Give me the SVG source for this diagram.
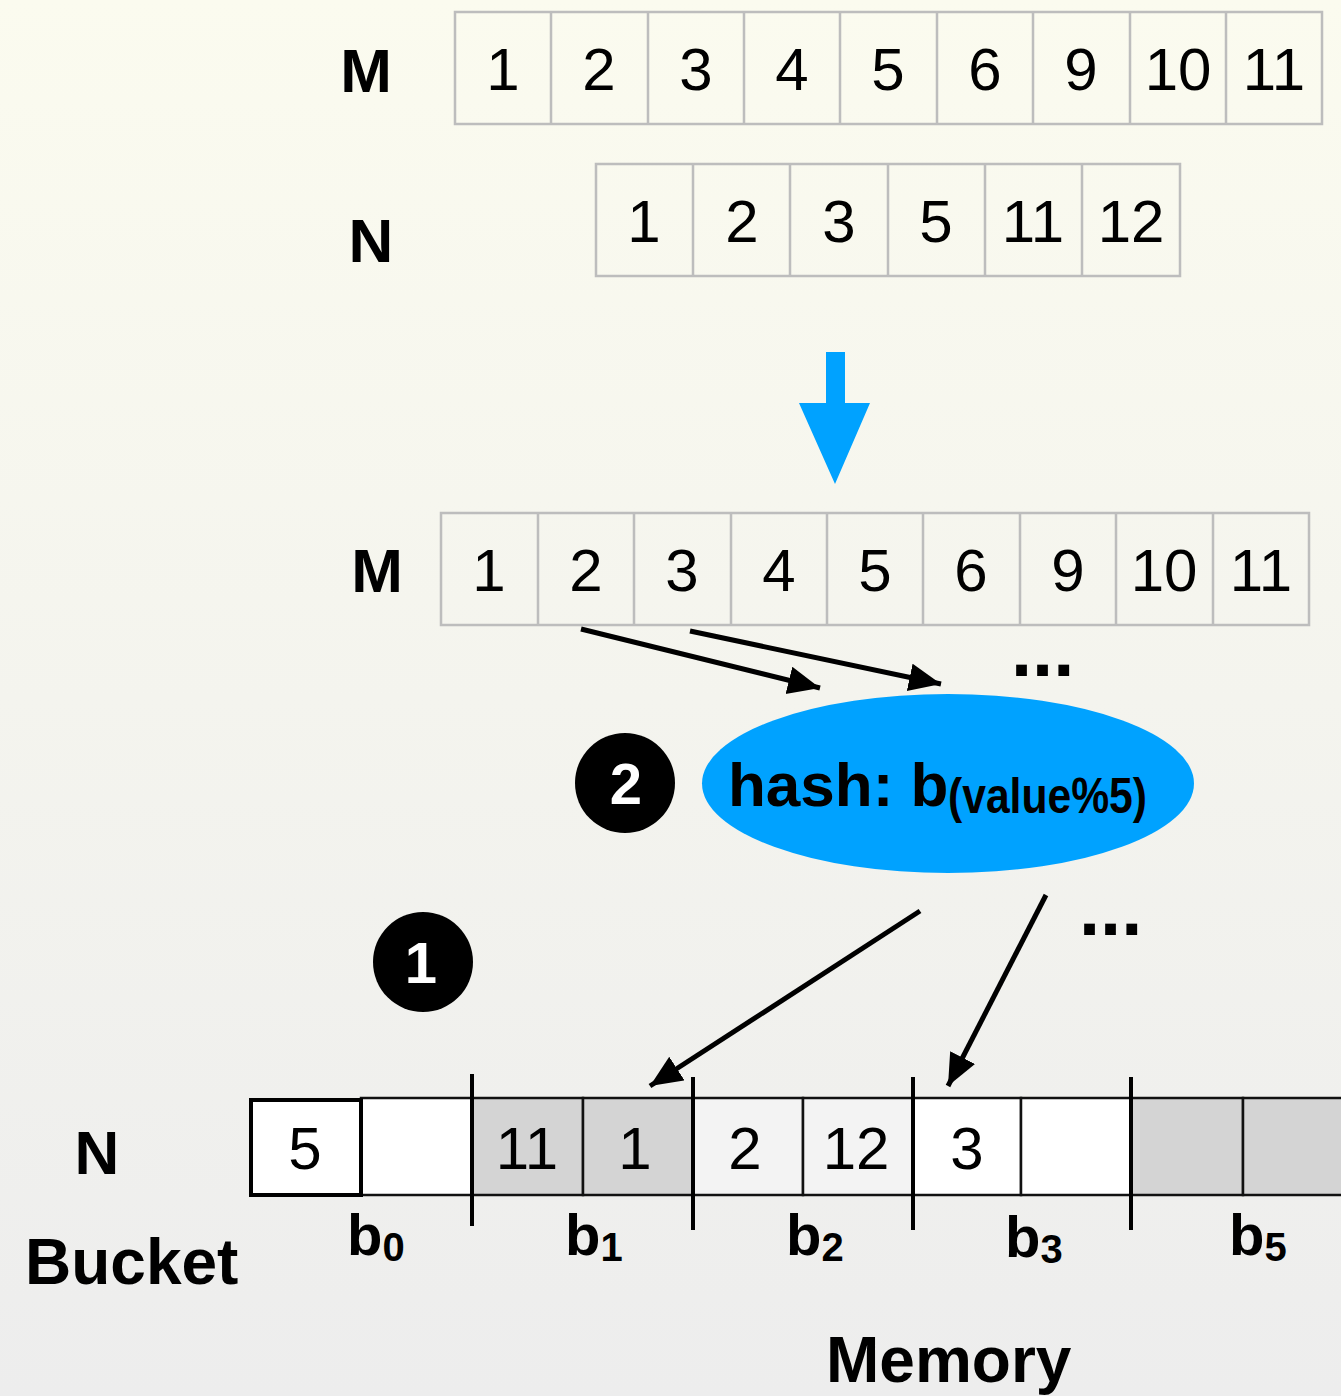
<svg xmlns="http://www.w3.org/2000/svg" width="1341" height="1396" viewBox="0 0 1341 1396">
<defs>
<linearGradient id="bg" x1="0" y1="0" x2="0" y2="1">
<stop offset="0" stop-color="#fbfbef"/>
<stop offset="1" stop-color="#ededed"/>
</linearGradient>
<marker id="ah" markerUnits="userSpaceOnUse" markerWidth="34" markerHeight="30" refX="32" refY="14" orient="auto" viewBox="0 0 34 30">
<path d="M0,0 L32,14 L0,28 z" fill="#000"/>
</marker>
</defs>
<style>
.cell{fill:none;stroke:#bdbdbd;stroke-width:2.5}
.num{font-family:"Liberation Sans",Arial,sans-serif;font-size:60px;fill:#000;text-anchor:middle}
.lbl{font-family:"Liberation Sans",Arial,sans-serif;font-weight:bold;font-size:62px;fill:#000;text-anchor:middle}
.bk{stroke:#111;stroke-width:2.5}
.sep{stroke:#000;stroke-width:4}
.conn{stroke:#000;stroke-width:5;fill:none;marker-end:url(#ah)}
.bl{font-family:"Liberation Sans",Arial,sans-serif;font-weight:bold;fill:#000}
.dots{font-family:"Liberation Sans",Arial,sans-serif;font-weight:bold;font-size:76px;fill:#000}
.white{font-family:"Liberation Sans",Arial,sans-serif;font-weight:bold;font-size:58px;fill:#fff;text-anchor:middle}
</style>
<rect x="0" y="0" width="1341" height="1396" fill="url(#bg)"/>

<g id="array-M-top">
<text class="lbl" x="366" y="92">M</text>
<rect class="cell" x="455" y="12" width="867" height="112"/>
<path class="cell" d="M551,12V124M648,12V124M744,12V124M840,12V124M937,12V124M1033,12V124M1130,12V124M1226,12V124"/>
<text class="num" x="503" y="90">1</text>
<text class="num" x="599" y="90">2</text>
<text class="num" x="696" y="90">3</text>
<text class="num" x="792" y="90">4</text>
<text class="num" x="888" y="90">5</text>
<text class="num" x="985" y="90">6</text>
<text class="num" x="1081" y="90">9</text>
<text class="num" x="1178" y="90">10</text>
<text class="num" x="1274" y="90">11</text>
</g>

<g id="array-N-top">
<text class="lbl" x="371" y="262">N</text>
<rect class="cell" x="596" y="164" width="584" height="112"/>
<path class="cell" d="M693,164V276M790,164V276M888,164V276M985,164V276M1082,164V276"/>
<text class="num" x="644" y="242">1</text>
<text class="num" x="742" y="242">2</text>
<text class="num" x="839" y="242">3</text>
<text class="num" x="936" y="242">5</text>
<text class="num" x="1033" y="242">11</text>
<text class="num" x="1131" y="242">12</text>
</g>

<g id="blue-arrow">
<path d="M826,352H845V403H870L835,484L799,403H826Z" fill="#00a2ff"/>
</g>

<g id="array-M-mid">
<text class="lbl" x="377" y="592">M</text>
<rect class="cell" x="441" y="513" width="868" height="112"/>
<path class="cell" d="M538,513V625M634,513V625M731,513V625M827,513V625M923,513V625M1020,513V625M1116,513V625M1213,513V625"/>
<text class="num" x="489" y="591">1</text>
<text class="num" x="586" y="591">2</text>
<text class="num" x="682" y="591">3</text>
<text class="num" x="779" y="591">4</text>
<text class="num" x="875" y="591">5</text>
<text class="num" x="971" y="591">6</text>
<text class="num" x="1068" y="591">9</text>
<text class="num" x="1164" y="591">10</text>
<text class="num" x="1261" y="591">11</text>
</g>

<g id="hash">
<ellipse cx="948" cy="783.5" rx="246" ry="89.5" fill="#00a2ff"/>
<text class="bl" x="728" y="806" font-size="62">hash: b</text>
<text class="bl" x="948" y="813" font-size="50" textLength="199" lengthAdjust="spacingAndGlyphs">(value%5)</text>
</g>

<g id="step2">
<circle cx="625" cy="783" r="50" fill="#000"/>
<text class="white" x="626" y="804">2</text>
</g>

<g id="step1">
<circle cx="423" cy="962" r="50" fill="#000"/>
<text class="white" x="421" y="983">1</text>
</g>

<g id="dots1"><text class="dots" x="1011" y="676">...</text></g>
<g id="dots2"><text class="dots" x="1079" y="935">...</text></g>

<g id="connectors">
<line class="conn" x1="581" y1="629" x2="820" y2="688"/>
<line class="conn" x1="690" y1="631" x2="941" y2="684"/>
<line class="conn" x1="920" y1="911" x2="650" y2="1086"/>
<line class="conn" x1="1046" y1="895" x2="948" y2="1086"/>
</g>

<g id="bucket-row">
<text class="lbl" x="97" y="1174">N</text>
<text class="bl" x="25" y="1284" font-size="64">Bucket</text>
<rect class="bk" x="361" y="1098" width="111" height="97" fill="#fff"/>
<rect class="bk" x="472" y="1098" width="111" height="97" fill="#d4d4d4"/>
<rect class="bk" x="583" y="1098" width="110" height="97" fill="#d4d4d4"/>
<rect class="bk" x="693" y="1098" width="110" height="97" fill="#f3f3f3"/>
<rect class="bk" x="803" y="1098" width="110" height="97" fill="#f3f3f3"/>
<rect class="bk" x="913" y="1098" width="108" height="97" fill="#fff"/>
<rect class="bk" x="1021" y="1098" width="110" height="97" fill="#fff"/>
<rect class="bk" x="1131" y="1098" width="112" height="97" fill="#d4d4d4"/>
<rect class="bk" x="1243" y="1098" width="110" height="97" fill="#d4d4d4"/>
<rect x="251" y="1100" width="110" height="95" fill="#fff" stroke="#000" stroke-width="4"/>
<text class="num" x="305" y="1169">5</text>
<text class="num" x="527" y="1169">11</text>
<text class="num" x="635" y="1169">1</text>
<text class="num" x="745" y="1169">2</text>
<text class="num" x="856" y="1169">12</text>
<text class="num" x="967" y="1169">3</text>
<line class="sep" x1="472" y1="1074" x2="472" y2="1226"/>
<line class="sep" x1="693" y1="1077" x2="693" y2="1230"/>
<line class="sep" x1="913" y1="1077" x2="913" y2="1230"/>
<line class="sep" x1="1131" y1="1077" x2="1131" y2="1230"/>
</g>

<g id="bucket-labels">
<text class="bl" x="347" y="1255" font-size="58">b<tspan font-size="40" dy="6">0</tspan></text>
<text class="bl" x="565" y="1255" font-size="58">b<tspan font-size="40" dy="6">1</tspan></text>
<text class="bl" x="786" y="1255" font-size="58">b<tspan font-size="40" dy="6">2</tspan></text>
<text class="bl" x="1005" y="1257" font-size="58">b<tspan font-size="40" dy="6">3</tspan></text>
<text class="bl" x="1229" y="1255" font-size="58">b<tspan font-size="40" dy="6">5</tspan></text>
</g>

<g id="memory">
<text class="bl" x="826" y="1382" font-size="64">Memory</text>
</g>
</svg>
